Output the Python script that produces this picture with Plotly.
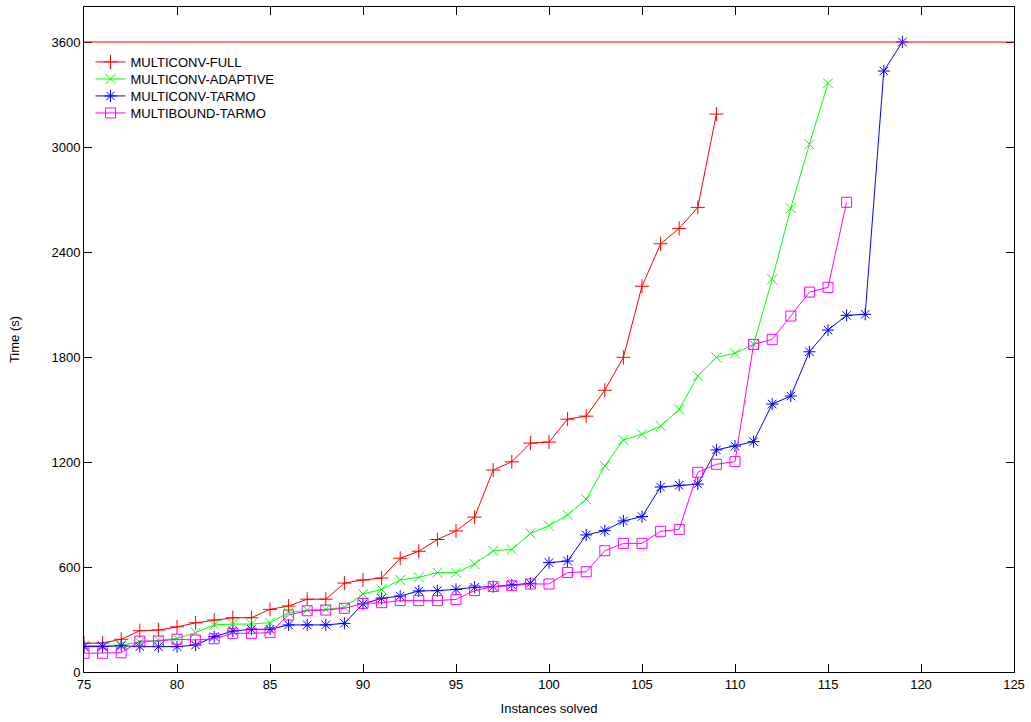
import plotly.graph_objects as go

TIMEOUT = 3600

full_x = list(range(75, 110))
full_y = [164, 166, 187, 236, 240, 258, 281, 297, 310, 310, 358, 377, 416, 416, 508, 526,
          537, 650, 690, 757, 806, 885, 1154, 1201, 1308, 1314, 1445, 1462, 1610, 1798,
          2204, 2447, 2535, 2655, 3188]

adaptive_x = list(range(75, 116))
adaptive_y = [150, 150, 154, 170, 183, 192, 225, 269, 274, 274, 282, 339, 354, 358, 370, 446,
              472, 526, 541, 568, 568, 617, 693, 701, 792, 836, 897, 987, 1177, 1326, 1358,
              1406, 1501, 1691, 1798, 1821, 1872, 2244, 2650, 3015, 3364]

tarmo_x = list(range(75, 120))
tarmo_y = [145, 145, 150, 145, 145, 145, 154, 202, 234, 244, 244, 269, 269, 269, 278, 389,
           421, 434, 463, 465, 472, 484, 488, 497, 507, 625, 634, 783, 808, 863, 888,
           1057, 1067, 1074, 1269, 1291, 1316, 1531, 1577, 1830, 1954, 2038, 2044, 3434, 3600]

bound_x = list(range(75, 117))
bound_y = [107, 107, 110, 177, 177, 187, 183, 190, 221, 221, 225, 326, 350, 354, 364, 392,
           396, 408, 408, 408, 415, 465, 488, 493, 503, 503, 568, 573, 693, 735, 735,
           804, 815, 1141, 1187, 1202, 1872, 1901, 2034, 2171, 2198, 2684]

series = [
    ("MULTICONV-FULL", full_x, full_y, "#ff0000", "cross-thin-open"),
    ("MULTICONV-ADAPTIVE", adaptive_x, adaptive_y, "#00ff00", "x-thin-open"),
    ("MULTICONV-TARMO", tarmo_x, tarmo_y, "#0000ff", "asterisk-open"),
    ("MULTIBOUND-TARMO", bound_x, bound_y, "#ff00ff", "square-open"),
]

x_ticks = list(range(75, 126, 5))
y_ticks = list(range(0, 3601, 600))

fig = go.Figure()
legend_ids = ["legend", "legend2", "legend3", "legend4"]
for (name, xs, ys, color, sym), lid in zip(series, legend_ids):
    fig.add_trace(go.Scatter(
        x=xs, y=ys, name=name, mode="lines+markers", legend=lid,
        line=dict(color=color, width=1),
        marker=dict(symbol=sym, size=10, color=color, line=dict(color=color, width=1)),
    ))

fig.add_shape(type="line", xref="paper", yref="y", x0=0, x1=1, y0=TIMEOUT, y1=TIMEOUT,
              line=dict(color="#ff0000", width=1))

axis_common = dict(showline=True, linecolor="black", linewidth=1, mirror="ticks",
                   ticks="inside", ticklen=8, tickcolor="black", showgrid=False,
                   zeroline=False, tickfont=dict(size=13, color="black"))

legend_rows = [0.9173, 0.8917, 0.8662, 0.8406]
legend_style = dict(x=0.007, xanchor="left", yanchor="middle", bgcolor="rgba(0,0,0,0)",
                    font=dict(size=13))

layout_legends = {lid: dict(y=ly, **legend_style) for lid, ly in zip(legend_ids, legend_rows)}

fig.update_layout(
    width=1031, height=722,
    margin=dict(l=84, r=17, t=7, b=50),
    plot_bgcolor="white", paper_bgcolor="white",
    font=dict(family="Liberation Sans, Arial, sans-serif", size=13, color="black"),
    xaxis=dict(range=[75, 125], tickvals=x_ticks, ticktext=[str(v) for v in x_ticks],
               title=dict(text="Instances solved", font=dict(size=13), standoff=13), **axis_common),
    yaxis=dict(range=[0, 3800], tickvals=y_ticks, ticktext=[str(v) for v in y_ticks],
               title=dict(text="Time (s)", font=dict(size=13), standoff=28), **axis_common),
    showlegend=True,
    **layout_legends,
)

fig.write_html("out.html")
